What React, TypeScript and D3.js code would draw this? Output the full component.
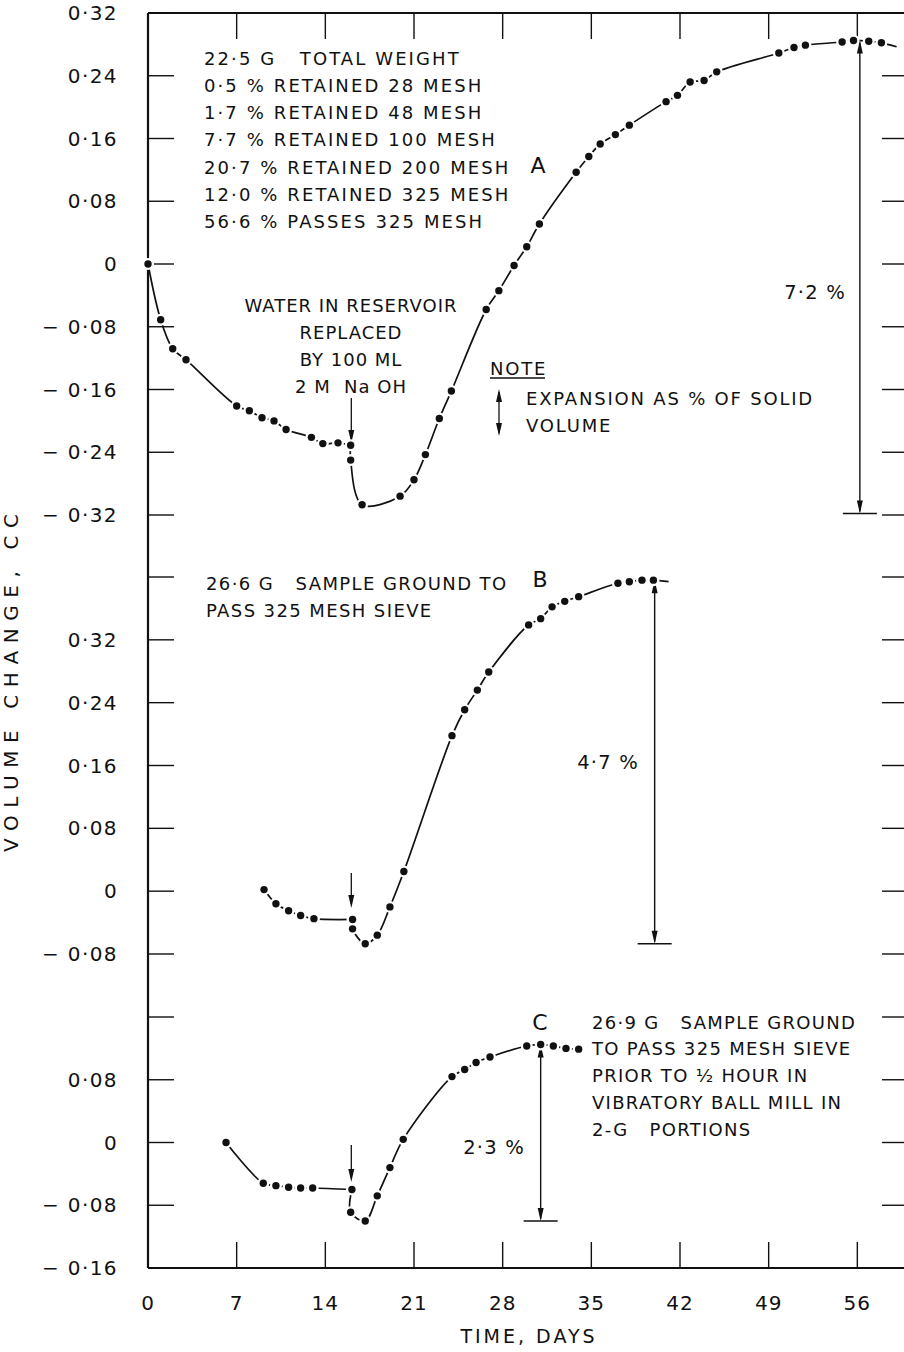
import React from "react";
import * as d3 from "d3";

const W = 904;
const H = 1352;

// ---------- data ----------
const dayTicks = [0, 7, 14, 21, 28, 35, 42, 49, 56];
const ticksA = [0.32, 0.24, 0.16, 0.08, 0, -0.08, -0.16, -0.24, -0.32];
const ticksB = [0.4, 0.32, 0.24, 0.16, 0.08, 0, -0.08];
const ticksC = [0.16, 0.08, 0, -0.08, -0.16];
const unlabeledB = [0.4];
const unlabeledC = [0.16];

const daysA = [0, 1.0, 1.95, 3.0, 7.0, 8.0, 9.0, 9.95, 10.9, 12.9, 13.8, 15.0, 16.0, 16.0, 16.9, 19.9, 21.0, 21.9, 23.0, 23.95, 26.7, 27.7, 28.9, 29.9, 30.9, 33.8, 34.8, 35.7, 36.9, 38.0, 40.9, 41.8, 42.8, 43.9, 44.9, 49.8, 51.0, 51.9, 54.8, 55.7, 56.9, 57.9];
const valuesA = [0, -0.071, -0.108, -0.122, -0.181, -0.187, -0.196, -0.2, -0.211, -0.221, -0.229, -0.228, -0.231, -0.25, -0.307, -0.296, -0.275, -0.243, -0.197, -0.162, -0.058, -0.034, -0.002, 0.022, 0.051, 0.117, 0.137, 0.153, 0.165, 0.177, 0.207, 0.215, 0.232, 0.234, 0.245, 0.269, 0.276, 0.279, 0.283, 0.285, 0.284, 0.282];
const splitA = 12;
const tailA = [59.1, 0.277];

const daysB = [9.16, 10.1, 11.1, 12.05, 13.1, 16.15, 16.15, 17.15, 18.1, 19.1, 20.2, 24.0, 25.0, 26.0, 26.9, 30.05, 31.0, 31.9, 32.9, 34.0, 37.1, 38.0, 39.0, 39.9];
const valuesB = [0.002, -0.016, -0.025, -0.031, -0.035, -0.036, -0.048, -0.067, -0.056, -0.02, 0.025, 0.198, 0.231, 0.256, 0.279, 0.339, 0.347, 0.362, 0.369, 0.375, 0.392, 0.394, 0.396, 0.396];
const splitB = 5;
const tailB = [41.1, 0.394];

const daysC = [6.16, 9.1, 10.1, 11.1, 12.05, 13.0, 16.1, 16.0, 17.15, 18.1, 19.1, 20.15, 24.0, 25.0, 25.9, 27.0, 29.9, 31.0, 32.0, 33.0, 34.0];
const valuesC = [0.0, -0.052, -0.055, -0.057, -0.058, -0.058, -0.06, -0.089, -0.1, -0.068, -0.032, 0.004, 0.084, 0.093, 0.102, 0.109, 0.123, 0.125, 0.123, 0.12, 0.119];
const splitC = 6;

// expansion dimension arrows
const expansionA = { day: 56.2, top: 0.285, bottom: -0.318, label: "7·2 %" };
const expansionB = { day: 40.0, top: 0.396, bottom: -0.067, label: "4·7 %" };
const expansionC = { day: 31.0, top: 0.125, bottom: -0.1, label: "2·3 %" };
const injectionDay = 16.05;

const textA = [
  "22·5 G   TOTAL WEIGHT",
  "0·5 % RETAINED 28 MESH",
  "1·7 % RETAINED 48 MESH",
  "7·7 % RETAINED 100 MESH",
  "20·7 % RETAINED 200 MESH",
  "12·0 % RETAINED 325 MESH",
  "56·6 % PASSES 325 MESH",
];
const textWater = ["WATER IN RESERVOIR", "REPLACED", "BY 100 ML", "2 M  Na OH"];
const textNote = ["EXPANSION AS % OF SOLID", "VOLUME"];
const textB = ["26·6 G   SAMPLE GROUND TO", "PASS 325 MESH SIEVE"];
const textC = ["26·9 G   SAMPLE GROUND", "TO PASS 325 MESH SIEVE", "PRIOR TO ½ HOUR IN", "VIBRATORY BALL MILL IN", "2-G   PORTIONS"];

// ---------- scales ----------
const x = d3.scaleLinear().domain([0, 60]).range([148, 908]);
const yA = d3.scaleLinear().domain([-0.32, 0.32]).range([515, 13]);
const yB = d3.scaleLinear().domain([-0.08, 0.4]).range([954, 577]);
const yC = d3.scaleLinear().domain([-0.16, 0.16]).range([1268, 1017]);

const FONT = "'DejaVu Sans', sans-serif";
const INK = "#111";

const fmt = (v: number) => {
  if (Math.abs(v) < 1e-9) return "0";
  return (v < 0 ? "− " : "") + Math.abs(v).toFixed(2).replace(".", "·");
};

function pts(days: number[], vals: number[]) {
  return days.map((d, i) => [d, vals[i]] as [number, number]);
}

function Series({ days, vals, split, tail, y }: any) {
  const all = pts(days, vals);
  const line = d3
    .line<[number, number]>()
    .x((d) => x(d[0]))
    .y((d) => y(d[1]))
    .curve(d3.curveCatmullRom.alpha(0.5));
  const pre = all.slice(0, split + 1);
  const post = all.slice(split).concat(tail ? [tail as [number, number]] : []);
  return (
    <g>
      <path d={line(pre) || ""} fill="none" stroke={INK} strokeWidth={1.7} />
      <path d={line(post) || ""} fill="none" stroke={INK} strokeWidth={1.7} />
      {all.map((d, i) => (
        <circle key={"h" + i} cx={x(d[0])} cy={y(d[1])} r={6} fill="#fff" />
      ))}
      {all.map((d, i) => (
        <circle key={"d" + i} cx={x(d[0])} cy={y(d[1])} r={3.7} fill={INK} />
      ))}
    </g>
  );
}

function ArrowHead({ cx, cy, dir }: { cx: number; cy: number; dir: 1 | -1 }) {
  const len = 13;
  const hw = 3;
  return <path d={`M${cx},${cy} L${cx - hw},${cy - dir * len} L${cx + hw},${cy - dir * len} Z`} fill={INK} />;
}

function Expansion({ e, y, lx, ly }: any) {
  const cx = x(e.day);
  const y1 = y(e.top);
  const y2 = y(e.bottom);
  return (
    <g>
      <line x1={cx} x2={cx} y1={y1 + 2} y2={y2 - 2} stroke={INK} strokeWidth={1.4} />
      <ArrowHead cx={cx} cy={y1} dir={-1} />
      <ArrowHead cx={cx} cy={y2} dir={1} />
      <line x1={cx - 17} x2={cx + 17} y1={y2} y2={y2} stroke={INK} strokeWidth={1.6} />
      <text x={lx} y={ly} fontSize={19.5} letterSpacing={1.2} textAnchor="middle" dominantBaseline="central" fill={INK}>
        {e.label}
      </text>
    </g>
  );
}

function Injection({ top, tip }: any) {
  const cx = x(injectionDay);
  return (
    <g>
      <line x1={cx} x2={cx} y1={top} y2={tip - 4} stroke={INK} strokeWidth={1.3} />
      <ArrowHead cx={cx} cy={tip} dir={1} />
    </g>
  );
}

function Lines({ lines, x0, y0, dy, anchor = "start", size = 18, ls = 1.3 }: any) {
  return (
    <g>
      {lines.map((t: string, i: number) => (
        <text
          key={i}
          x={x0}
          y={y0 + i * dy}
          fontSize={size}
          letterSpacing={ls}
          textAnchor={anchor}
          dominantBaseline="central"
          fill={INK}
          style={{ whiteSpace: "pre" }}
        >
          {t}
        </text>
      ))}
    </g>
  );
}

export default function App() {
  const left = x(0);
  const right = x(60);
  const top = yA(0.32);
  const bottom = yC(-0.16);
  const tickLen = 26;

  const yTicks: { y: number; label: string }[] = [];
  ticksA.forEach((v) => yTicks.push({ y: yA(v), label: fmt(v) }));
  ticksB.forEach((v) => yTicks.push({ y: yB(v), label: unlabeledB.includes(v) ? "" : fmt(v) }));
  ticksC.forEach((v) => yTicks.push({ y: yC(v), label: unlabeledC.includes(v) ? "" : fmt(v) }));

  return (
    <svg
      width={W}
      height={H}
      viewBox={`0 0 ${W} ${H}`}
      style={{ position: "absolute", left: 0, top: 0, background: "#fff", fontFamily: FONT }}
    >
      <rect x={0} y={0} width={W} height={H} fill="#fff" />
      {/* frame */}
      <line x1={left} x2={right} y1={top} y2={top} stroke={INK} strokeWidth={2} />
      <line x1={left} x2={right} y1={bottom} y2={bottom} stroke={INK} strokeWidth={2} />
      <line x1={left} x2={left} y1={top} y2={bottom} stroke={INK} strokeWidth={2.2} />
      <line x1={right} x2={right} y1={top} y2={bottom} stroke={INK} strokeWidth={2} />

      {/* y ticks both sides */}
      {yTicks.map((t, i) => (
        <g key={"yt" + i}>
          <line x1={left} x2={left + tickLen} y1={t.y} y2={t.y} stroke={INK} strokeWidth={1.4} />
          <line x1={right - tickLen} x2={right} y1={t.y} y2={t.y} stroke={INK} strokeWidth={1.4} />
          {t.label && (
            <text x={118} y={t.y} fontSize={20} letterSpacing={1.4} textAnchor="end" dominantBaseline="central" fill={INK} style={{ whiteSpace: "pre" }}>
              {t.label}
            </text>
          )}
        </g>
      ))}

      {/* x ticks top and bottom */}
      {dayTicks.map((d) => (
        <g key={"xt" + d}>
          {d > 0 && <line x1={x(d)} x2={x(d)} y1={top} y2={top + tickLen} stroke={INK} strokeWidth={1.4} />}
          {d > 0 && <line x1={x(d)} x2={x(d)} y1={bottom} y2={bottom - tickLen} stroke={INK} strokeWidth={1.4} />}
          <text x={x(d)} y={1303} fontSize={20} letterSpacing={1} textAnchor="middle" dominantBaseline="central" fill={INK}>
            {d}
          </text>
        </g>
      ))}

      {/* axis titles */}
      <text x={(left + right) / 2 + 1} y={1336} fontSize={19} letterSpacing={3} textAnchor="middle" dominantBaseline="central" fill={INK}>
        TIME, DAYS
      </text>
      <text
        transform={`translate(11, 683) rotate(-90)`}
        fontSize={20}
        textLength={338}
        lengthAdjust="spacing"
        textAnchor="middle"
        dominantBaseline="central"
        fill={INK}
      >
        VOLUME CHANGE, CC
      </text>

      {/* annotations A */}
      <Lines lines={textA} x0={204} y0={58} dy={27.3} ls={2.1} />
      <text x={538} y={165} fontSize={22} textAnchor="middle" dominantBaseline="central" fill={INK}>A</text>
      <Lines lines={textWater} x0={351} y0={305} dy={27.3} anchor="middle" ls={1} />
      <Injection top={398} tip={443} />
      <text x={490} y={368} fontSize={18} letterSpacing={1.8} dominantBaseline="central" fill={INK}>NOTE</text>
      <line x1={490} x2={545} y1={378} y2={378} stroke={INK} strokeWidth={1.4} />
      <line x1={499} x2={499} y1={392} y2={433} stroke={INK} strokeWidth={1.3} />
      <ArrowHead cx={499} cy={389} dir={-1} />
      <ArrowHead cx={499} cy={436} dir={1} />
      <Lines lines={textNote} x0={526} y0={398} dy={27} ls={1.8} />

      {/* annotations B */}
      <Lines lines={textB} x0={206} y0={583} dy={27} ls={1.4} />
      <text x={540} y={579} fontSize={22} textAnchor="middle" dominantBaseline="central" fill={INK}>B</text>
      <Injection top={873} tip={908} />

      {/* annotations C */}
      <Lines lines={textC} x0={592} y0={1022} dy={26.8} ls={1.3} />
      <text x={540} y={1022} fontSize={22} textAnchor="middle" dominantBaseline="central" fill={INK}>C</text>
      <Injection top={1145} tip={1182} />

      {/* expansion dimension arrows */}
      <Expansion e={expansionA} y={yA} lx={815} ly={292} />
      <Expansion e={expansionB} y={yB} lx={608} ly={762} />
      <Expansion e={expansionC} y={yC} lx={494} ly={1147} />

      {/* series */}
      <Series days={daysA} vals={valuesA} split={splitA} tail={tailA} y={yA} />
      <Series days={daysB} vals={valuesB} split={splitB} tail={tailB} y={yB} />
      <Series days={daysC} vals={valuesC} split={splitC} y={yC} />
    </svg>
  );
}
